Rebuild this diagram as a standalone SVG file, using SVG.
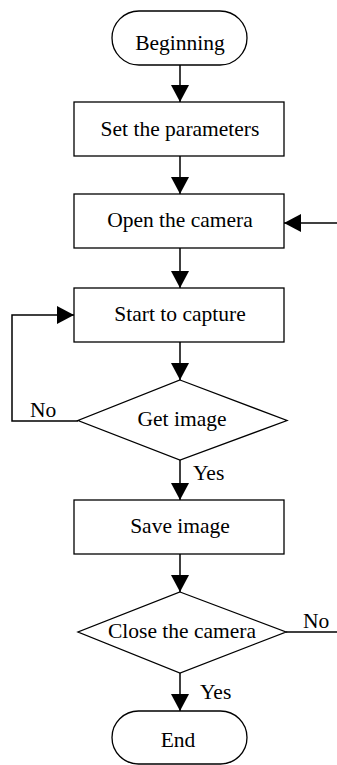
<svg xmlns="http://www.w3.org/2000/svg" width="337" height="765" viewBox="0 0 337 765">
<style>
.s{fill:#fff;stroke:#000;stroke-width:1.3}
.t{font-family:"Liberation Serif","Times New Roman",serif;font-size:21.5px;fill:#000;text-anchor:middle}
.l{font-family:"Liberation Serif","Times New Roman",serif;font-size:21.5px;fill:#000}
.c{fill:none;stroke:#000;stroke-width:1.5}
</style>
<defs>
<marker id="ah" markerWidth="18" markerHeight="18" viewBox="0 0 18 18" refX="17" refY="9" orient="auto" markerUnits="userSpaceOnUse">
<path d="M0,0 L17,9 L0,18 Z" fill="#000"/>
</marker>
</defs>
<g id="connectors">
<line class="c" x1="180" y1="65" x2="180" y2="102" marker-end="url(#ah)"/>
<line class="c" x1="180" y1="156" x2="180" y2="194" marker-end="url(#ah)"/>
<line class="c" x1="337" y1="223" x2="284" y2="223" marker-end="url(#ah)"/>
<line class="c" x1="180" y1="248" x2="180" y2="288" marker-end="url(#ah)"/>
<line class="c" x1="180" y1="342" x2="180" y2="380" marker-end="url(#ah)"/>
<polyline class="c" points="78,421 12,421 12,315 74,315" marker-end="url(#ah)"/>
<line class="c" x1="180" y1="460" x2="180" y2="500" marker-end="url(#ah)"/>
<line class="c" x1="180" y1="554" x2="180" y2="592" marker-end="url(#ah)"/>
<line class="c" x1="286" y1="632" x2="337" y2="632"/>
<line class="c" x1="180" y1="673" x2="180" y2="711" marker-end="url(#ah)"/>
<text class="l" x="30" y="417">No</text>
<text class="l" x="193" y="480">Yes</text>
<text class="l" x="303" y="628">No</text>
<text class="l" x="200" y="699">Yes</text>
</g>
<g id="beginning">
<rect class="s" x="112" y="11" width="135" height="54" rx="27" ry="27"/>
<text class="t" x="180" y="50">Beginning</text>
</g>
<g id="set-parameters">
<rect class="s" x="74" y="102" width="210" height="54"/>
<text class="t" x="180" y="136">Set the parameters</text>
</g>
<g id="open-camera">
<rect class="s" x="74" y="194" width="210" height="54"/>
<text class="t" x="180" y="227">Open the camera</text>
</g>
<g id="start-capture">
<rect class="s" x="74" y="288" width="210" height="54"/>
<text class="t" x="180" y="321">Start to capture</text>
</g>
<g id="get-image">
<polygon class="s" points="180,380 287,420.5 180,460 78,420.5"/>
<text class="t" x="182" y="426">Get image</text>
</g>
<g id="save-image">
<rect class="s" x="74" y="500" width="210" height="54"/>
<text class="t" x="180" y="533">Save image</text>
</g>
<g id="close-camera">
<polygon class="s" points="180,592 286,632 180,673 78,632"/>
<text class="t" x="182" y="638">Close the camera</text>
</g>
<g id="end">
<rect class="s" x="112" y="711" width="135" height="53" rx="26.5" ry="26.5"/>
<text class="t" x="178" y="747">End</text>
</g>
</svg>
